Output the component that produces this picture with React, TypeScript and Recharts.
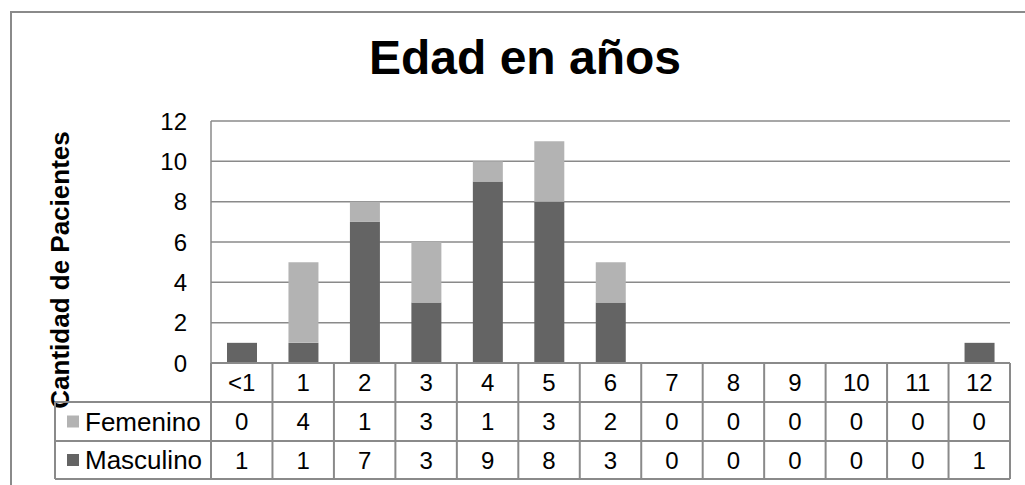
import React from 'react';
import { BarChart, Bar, XAxis, YAxis, CartesianGrid, Label } from 'recharts';

const categories = ['<1', '1', '2', '3', '4', '5', '6', '7', '8', '9', '10', '11', '12'];
const femenino = [0, 4, 1, 3, 1, 3, 2, 0, 0, 0, 0, 0, 0];
const masculino = [1, 1, 7, 3, 9, 8, 3, 0, 0, 0, 0, 0, 1];
const yTicks = [0, 2, 4, 6, 8, 10, 12];

const data = categories.map((edad, i) => ({
  edad,
  Femenino: femenino[i],
  Masculino: masculino[i],
}));

const W = 1025;
const H = 485;
const MARGIN = { top: 121, right: 15, left: 151, bottom: 6 };
const Y_AXIS_W = 60;
const X_AXIS_H = 116;
const PLOT_LEFT = MARGIN.left + Y_AXIS_W;
const PLOT_RIGHT = W - MARGIN.right;
const CELL_W = (PLOT_RIGHT - PLOT_LEFT) / categories.length;
const ROW_H = [39, 39, 38];
const LEGEND_LEFT = 55;

const FONT = '"Liberation Sans", Arial, sans-serif';
const DARK = '#646464';
const LIGHT = '#b3b3b3';
const LINE = '#8a8a8a';

// data table under the plot, drawn from the x axis ticks
const TableTick = (props: any) => {
  const { x, y, payload } = props;
  const i = payload.index;
  const left = x - CELL_W / 2;
  const right = x + CELL_W / 2;
  const r1 = y + ROW_H[0];
  const r2 = r1 + ROW_H[1];
  const r3 = r2 + ROW_H[2];
  const txt = { fontFamily: FONT, fontSize: 24, fill: '#000', textAnchor: 'middle' as const };
  return (
    <g>
      {i === 0 && (
        <g>
          <line x1={LEGEND_LEFT} y1={r1} x2={PLOT_RIGHT} y2={r1} stroke={LINE} strokeWidth={2} />
          <line x1={LEGEND_LEFT} y1={r2} x2={PLOT_RIGHT} y2={r2} stroke={LINE} strokeWidth={2} />
          <line x1={LEGEND_LEFT} y1={r3} x2={PLOT_RIGHT} y2={r3} stroke={LINE} strokeWidth={2} />
          <line x1={LEGEND_LEFT} y1={r1} x2={LEGEND_LEFT} y2={r3} stroke={LINE} strokeWidth={2} />
          <rect x={67} y={(r1 + r2) / 2 - 6} width={12} height={12} fill={LIGHT} />
          <text x={85} y={(r1 + r2) / 2} dy="0.355em" fontFamily={FONT} fontSize={26} fill="#000">
            Femenino
          </text>
          <rect x={67} y={(r2 + r3) / 2 - 6} width={12} height={12} fill={DARK} />
          <text x={85} y={(r2 + r3) / 2} dy="0.355em" fontFamily={FONT} fontSize={26} fill="#000">
            Masculino
          </text>
        </g>
      )}
      <line x1={left} y1={y} x2={left} y2={r3} stroke={LINE} strokeWidth={2} />
      {i === categories.length - 1 && (
        <line x1={right} y1={y} x2={right} y2={r3} stroke={LINE} strokeWidth={2} />
      )}
      <text x={x} y={(y + r1) / 2} dy="0.355em" {...txt}>{payload.value}</text>
      <text x={x} y={(r1 + r2) / 2} dy="0.355em" {...txt}>{femenino[i]}</text>
      <text x={x} y={(r2 + r3) / 2} dy="0.355em" {...txt}>{masculino[i]}</text>
    </g>
  );
};

export default function App() {
  return (
    <div style={{ position: 'absolute', left: 0, top: 0, width: W, height: H, background: '#fff', overflow: 'hidden' }}>
      {/* outer chart frame */}
      <div style={{ position: 'absolute', left: 10, top: 11, width: W, height: H, borderLeft: `2px solid ${LINE}`, borderTop: `2px solid ${LINE}` }} />
      <div
        style={{
          position: 'absolute', left: 0, width: 1050, top: 30, textAlign: 'center',
          fontFamily: FONT, fontWeight: 'bold', fontSize: 48, lineHeight: '56px', color: '#000',
        }}
      >
        Edad en años
      </div>
      <div style={{ position: 'absolute', left: 0, top: 0 }}>
        <BarChart width={W} height={H} data={data} margin={MARGIN}>
          <CartesianGrid vertical={false} stroke={LINE} strokeWidth={1.5} />
          <XAxis
            dataKey="edad"
            height={X_AXIS_H}
            interval={0}
            tickLine={false}
            tickSize={0}
            tickMargin={0}
            axisLine={{ stroke: LINE, strokeWidth: 2 }}
            tick={<TableTick />}
          />
          <YAxis
            width={Y_AXIS_W}
            domain={[0, 12]}
            ticks={yTicks}
            interval={0}
            tickLine={false}
            tickSize={0}
            tickMargin={24}
            axisLine={{ stroke: LINE, strokeWidth: 1.5 }}
            tick={{ fill: '#000', fontSize: 24, fontFamily: FONT }}
          >
            <Label
              content={() => (
                <text
                  x={60}
                  y={270}
                  transform="rotate(-90 60 270)"
                  textAnchor="middle"
                  dy="0.355em"
                  fontFamily={FONT}
                  fontWeight="bold"
                  fontSize={26}
                  fill="#000"
                >
                  Cantidad de Pacientes
                </text>
              )}
            />
          </YAxis>
          <Bar dataKey="Masculino" stackId="a" fill={DARK} barSize={30} isAnimationActive={false} />
          <Bar dataKey="Femenino" stackId="a" fill={LIGHT} barSize={30} isAnimationActive={false} />
        </BarChart>
      </div>
    </div>
  );
}
